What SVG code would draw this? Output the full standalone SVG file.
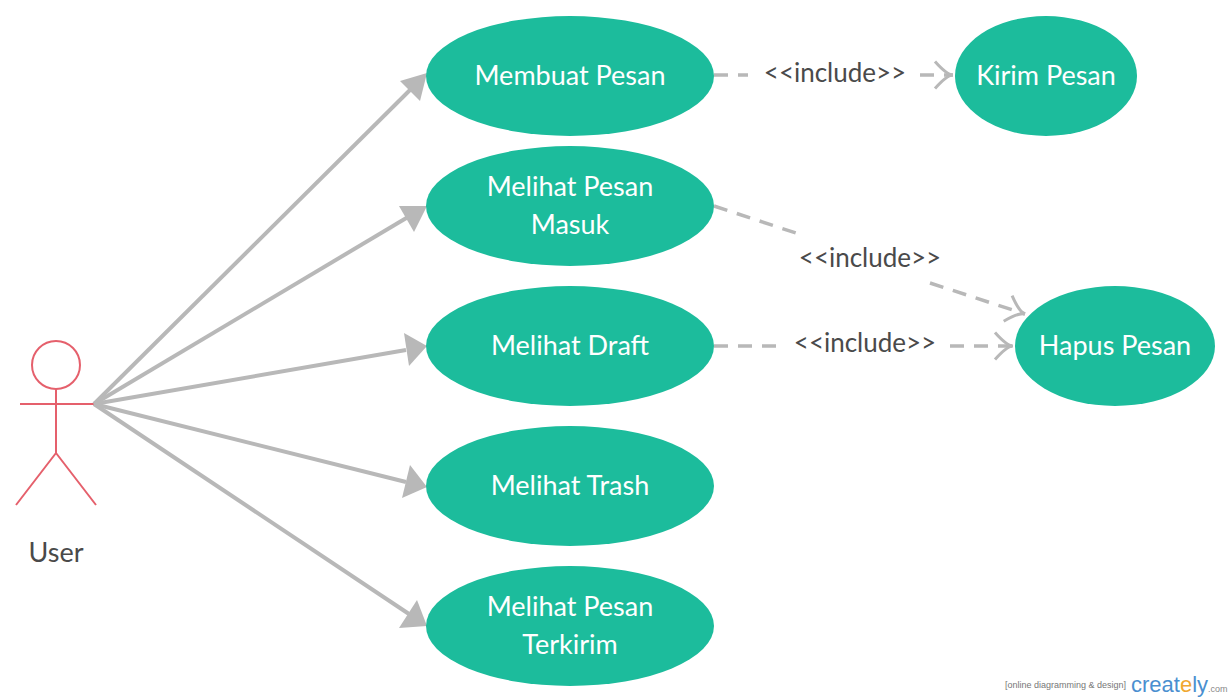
<svg xmlns="http://www.w3.org/2000/svg" width="1230" height="700" viewBox="0 0 1230 700">
<style>
.uc{fill:#1cbc9c}
.t{font-family:Lato,"Liberation Sans",sans-serif;font-size:27px;fill:#fff;text-anchor:middle}
.l{font-family:Lato,"Liberation Sans",sans-serif;font-size:26px;fill:#4a4a4a;text-anchor:middle}
.s{stroke:#b8b8b8;stroke-width:4;fill:none}
.d{stroke:#b8b8b8;stroke-width:3.5;fill:none;stroke-dasharray:14 10}
.a{stroke:#e5606c;stroke-width:2;fill:none}
</style>
<defs>
<marker id="o" viewBox="0 0 20 20" refX="18" refY="10" markerWidth="30" markerHeight="30" markerUnits="userSpaceOnUse" orient="auto">
<path d="M6,1 Q14,10 18,10 Q14,10 6,19" fill="none" stroke="#b8b8b8" stroke-width="2"/>
</marker>
</defs>
<g id="actor">
<circle cx="56" cy="365" r="24" fill="#fff" class="a"/>
<path class="a" d="M56,389V453M20,404H94M56,453L16,505M56,453L96,505"/>
<text x="56" y="562" class="l" style="font-size:27px">User</text>
</g>
<g id="connectors">
<path class="s" d="M94,404L410,90"/><path d="M427,73L420,101L400,81Z" fill="#b8b8b8"/>
<path class="s" d="M94,404L408,217"/><path d="M427,206L414,232L399,206Z" fill="#b8b8b8"/>
<path class="s" d="M94,404L406,350"/><path d="M427,346L409,366L404,333Z" fill="#b8b8b8"/>
<path class="s" d="M94,404L406,482"/><path d="M427,487L402,498L410,465Z" fill="#b8b8b8"/>
<path class="s" d="M94,404L409,614"/><path d="M427,626L399,628L417,600Z" fill="#b8b8b8"/>
<path class="d" d="M714,75H748"/><path class="d" d="M920,75H953" marker-end="url(#o)"/>
<text x="835" y="82" class="l">&lt;&lt;include&gt;&gt;</text>
<path class="d" d="M714,206L805,236"/><path class="d" d="M930,283L1025,314" marker-end="url(#o)"/>
<text x="870" y="267" class="l">&lt;&lt;include&gt;&gt;</text>
<path class="d" d="M714,346H780"/><path class="d" d="M950,346H1013" marker-end="url(#o)"/>
<text x="865" y="352" class="l">&lt;&lt;include&gt;&gt;</text>
</g>
<g id="uc1"><ellipse class="uc" cx="570" cy="76" rx="144" ry="60"/><text class="t" x="570" y="85">Membuat Pesan</text></g>
<g id="uc2"><ellipse class="uc" cx="570" cy="206" rx="144" ry="60"/><text class="t" x="570" y="196">Melihat Pesan</text><text class="t" x="570" y="234">Masuk</text></g>
<g id="uc3"><ellipse class="uc" cx="570" cy="346" rx="144" ry="60"/><text class="t" x="570" y="355">Melihat Draft</text></g>
<g id="uc4"><ellipse class="uc" cx="570" cy="486" rx="144" ry="60"/><text class="t" x="570" y="495">Melihat Trash</text></g>
<g id="uc5"><ellipse class="uc" cx="570" cy="626" rx="144" ry="60"/><text class="t" x="570" y="616">Melihat Pesan</text><text class="t" x="570" y="654">Terkirim</text></g>
<g id="uc6"><ellipse class="uc" cx="1046" cy="76" rx="91" ry="60"/><text class="t" x="1046" y="85">Kirim Pesan</text></g>
<g id="uc7"><ellipse class="uc" cx="1115" cy="346" rx="100" ry="60"/><text class="t" x="1115" y="355">Hapus Pesan</text></g>
<g id="logo">
<text x="1126" y="688" style="font-family:'Liberation Sans',sans-serif;font-size:9px;fill:#777" text-anchor="end">[online diagramming &amp; design]</text>
<text x="1131" y="692" style="font-family:'Liberation Sans',sans-serif;font-size:22px;fill:#4a8fd0">creat<tspan fill="#f0a830">e</tspan>ly<tspan style="font-size:9px;fill:#888">.com</tspan></text>
</g>
</svg>
